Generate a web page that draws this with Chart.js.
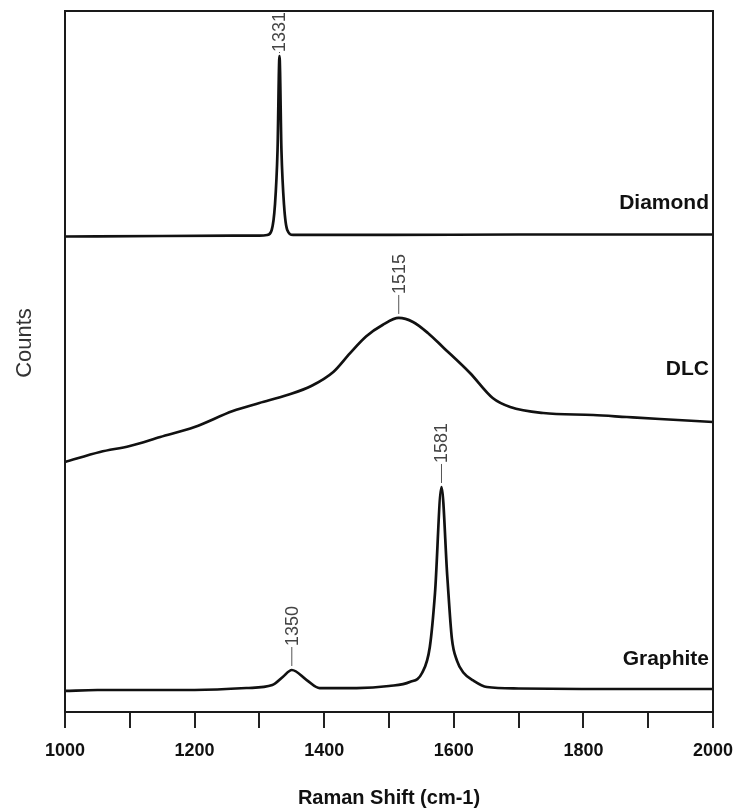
<!DOCTYPE html>
<html lang="pt-BR">
<head>
<meta charset="utf-8">
<title>Espectros Raman</title>
<script src="https://cdn.jsdelivr.net/npm/chart.js@4.4.1/dist/chart.umd.min.js"></script>
<style>
  html, body { margin: 0; padding: 0; background: #fff; }
  #grafico-container { width: 743px; height: 812px; }
</style>
</head>
<body>
<div id="grafico-container"><canvas id="grafico-raman"></canvas></div>
<script>
// Deslocamento Raman (cm-1) e contagens (unidades arbitrárias)
const xDiamante = [1000, 1150, 1300, 1312, 1319, 1324, 1328, 1331, 1334, 1338, 1343, 1352, 1500, 1700, 2000];
const yDiamante = [67.83, 67.90, 67.97, 68.05, 68.76, 72.33, 80.17, 93.58, 80.17, 72.33, 68.76, 68.05, 68.05, 68.12, 68.12];

const xDLC = [1000, 1054, 1100, 1147, 1200, 1259, 1300, 1343, 1380, 1414, 1440, 1465, 1490, 1515, 1537, 1560, 1583, 1625, 1660, 1687, 1738, 1815, 1867, 1918, 2000];
const yDLC = [35.66, 37.09, 37.95, 39.23, 40.66, 42.94, 44.08, 45.22, 46.50, 48.50, 51.20, 53.60, 55.20, 56.21, 55.64, 54.07, 52.07, 48.36, 44.79, 43.51, 42.65, 42.37, 42.08, 41.80, 41.37];

const xGrafite = [1000, 1050, 1100, 1200, 1280, 1320, 1336, 1350, 1373, 1393, 1450, 1500, 1532, 1551, 1563, 1571, 1581, 1590, 1597, 1605, 1615, 1630, 1651, 1700, 1800, 1900, 2000];
const yGrafite = [3.00, 3.14, 3.14, 3.14, 3.42, 3.85, 4.99, 5.99, 4.56, 3.42, 3.42, 3.71, 4.28, 5.56, 9.27, 16.98, 32.10, 19.26, 10.50, 7.30, 5.60, 4.50, 3.57, 3.35, 3.28, 3.28, 3.28];

// Nomes das amostras e picos marcados
const amostras = ['Diamond', 'DLC', 'Graphite'];
const picosSerie = [0, 1, 2, 2];
const picosPosicao = [1331, 1515, 1350, 1581];

// Eixo X
const xMin = 1000;
const xMax = 2000;
const xPasso = 100;

const juntar = (xs, ys) => xs.map((x, i) => ({ x: x, y: ys[i] }));

// Onde escrever o nome de cada amostra (em contagens)
const nomesY = [72.6, 48.9, 7.6];

const COR = '#111';

// Plugin para a moldura, nomes, picos e título do eixo Y
const anotacoes = {
  id: 'anotacoes',
  afterDraw(chart) {
    const { ctx, chartArea: area, scales } = chart;
    ctx.save();

    // moldura
    ctx.strokeStyle = '#1a1a1a';
    ctx.lineWidth = 2;
    ctx.strokeRect(area.left, area.top, area.right - area.left, area.bottom - area.top);

    // nomes das amostras
    ctx.fillStyle = COR;
    ctx.font = 'bold 21px "Liberation Sans", Arial, sans-serif';
    ctx.textAlign = 'right';
    ctx.textBaseline = 'middle';
    amostras.forEach((nome, i) => {
      ctx.fillText(nome, area.right - 4, scales.y.getPixelForValue(nomesY[i]));
    });

    // picos
    ctx.font = '18px "Liberation Sans", Arial, sans-serif';
    ctx.fillStyle = '#444';
    ctx.strokeStyle = '#555';
    ctx.lineWidth = 1;
    picosPosicao.forEach((pos, i) => {
      const meta = chart.getDatasetMeta(picosSerie[i]);
      const idx = chart.data.datasets[picosSerie[i]].data.findIndex(p => p.x === pos);
      const pt = meta.data[idx];
      const texto = String(pos);
      const largura = ctx.measureText(texto).width;
      let base = pt.y - 24;
      if (base - largura < area.top) base = area.top + largura + 1;
      ctx.beginPath();
      ctx.moveTo(pt.x, pt.y - 4);
      ctx.lineTo(pt.x, base + 1);
      ctx.stroke();
      ctx.save();
      ctx.translate(pt.x, base);
      ctx.rotate(-Math.PI / 2);
      ctx.textAlign = 'left';
      ctx.textBaseline = 'middle';
      ctx.fillText(texto, 0, 1);
      ctx.restore();
    });

    // título do eixo Y
    ctx.save();
    ctx.translate(25, 343);
    ctx.rotate(-Math.PI / 2);
    ctx.font = '22px "Liberation Sans", Arial, sans-serif';
    ctx.fillStyle = '#333';
    ctx.textAlign = 'center';
    ctx.textBaseline = 'middle';
    ctx.fillText('Counts', 0, 0);
    ctx.restore();

    ctx.restore();
  }
};

const serie = (dados) => ({
  data: dados,
  borderColor: COR,
  borderWidth: 2.7,
  pointRadius: 0,
  fill: false,
  cubicInterpolationMode: 'monotone'
});

new Chart(document.getElementById('grafico-raman'), {
  type: 'line',
  data: {
    datasets: [
      serie(juntar(xDiamante, yDiamante)),
      serie(juntar(xDLC, yDLC)),
      serie(juntar(xGrafite, yGrafite))
    ]
  },
  options: {
    responsive: true,
    maintainAspectRatio: false,
    animation: false,
    layout: { padding: { left: 65, right: 30, top: 11, bottom: 0 } },
    plugins: {
      legend: { display: false },
      tooltip: { enabled: false }
    },
    scales: {
      x: {
        type: 'linear',
        min: xMin,
        max: xMax,
        afterFit: (escala) => {
          escala.height = 100;
          escala.paddingLeft = 0;
          escala.paddingRight = 0;
        },
        border: { display: true, color: '#1a1a1a', width: 2 },
        grid: { drawOnChartArea: false, drawTicks: true, tickLength: 16, color: '#222', lineWidth: 2 },
        ticks: {
          stepSize: xPasso,
          autoSkip: false,
          maxRotation: 0,
          padding: 12,
          color: COR,
          font: { family: '"Liberation Sans", Arial, sans-serif', size: 18, weight: 'bold' },
          callback: (v) => (v % 200 === 0 ? String(v) : '')
        },
        title: {
          display: true,
          text: 'Raman Shift (cm-1)',
          color: COR,
          padding: { top: 0, bottom: 2 },
          font: { family: '"Liberation Sans", Arial, sans-serif', size: 20, weight: 'bold' }
        }
      },
      y: {
        display: false,
        min: 0,
        max: 100
      }
    }
  },
  plugins: [anotacoes]
});
</script>
</body>
</html>
